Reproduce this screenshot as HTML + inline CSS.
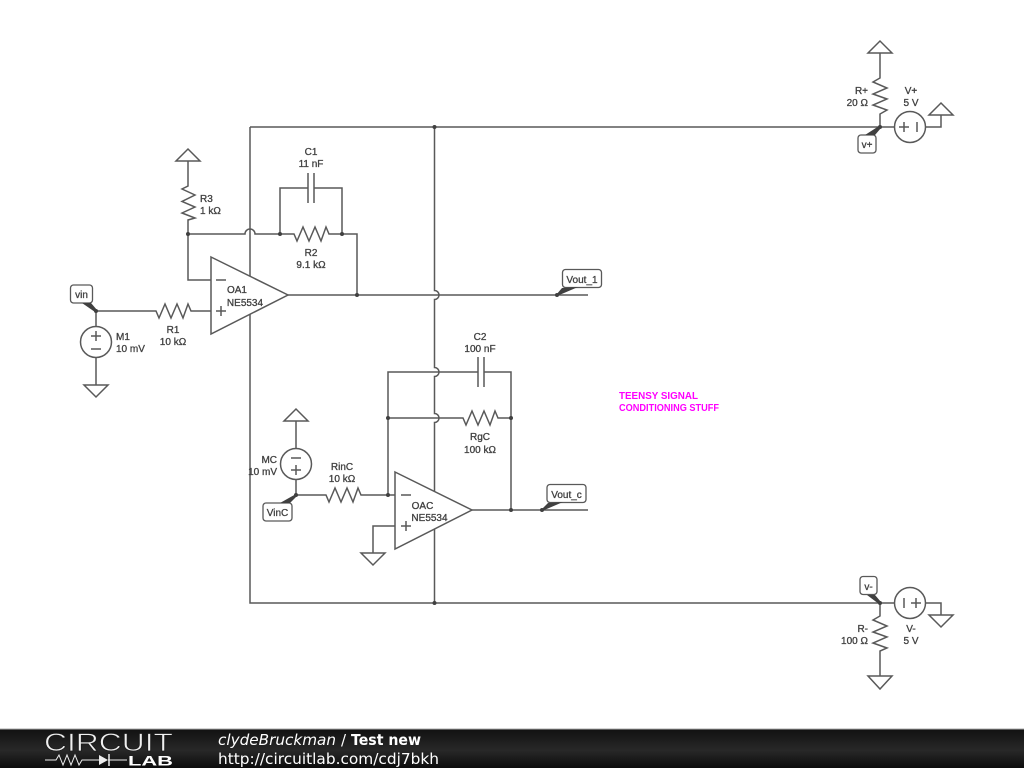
<!DOCTYPE html>
<html>
<head>
<meta charset="utf-8">
<style>
html,body{margin:0;padding:0;background:#fff;width:1024px;height:768px;overflow:hidden}
svg{display:block;filter:blur(.35px)}
.w{fill:none;stroke:#595959;stroke-width:1.5}
.f{fill:#fff;stroke:#595959;stroke-width:1.5}
.j{fill:#404040}
.t{font-family:"Liberation Sans",sans-serif;font-size:10px;fill:#404040;text-anchor:middle;stroke:#404040;stroke-width:.3}
.b{fill:#fff;stroke:#595959;stroke-width:1.3}
.lead{fill:#404040}
.m{font-family:"Liberation Sans",sans-serif;font-size:10px;font-weight:bold;fill:#ff00ff}
.ft{font-family:"DejaVu Sans",sans-serif;font-size:15px;fill:#fff}
</style>
</head>
<body>
<svg width="1024" height="768" viewBox="0 0 1024 768" xmlns="http://www.w3.org/2000/svg">
<defs>
<linearGradient id="g" x1="0" y1="0" x2="0" y2="1"><stop offset="0" stop-color="#111"/><stop offset=".55" stop-color="#282828"/><stop offset="1" stop-color="#0c0c0c"/></linearGradient>
</defs>
<rect width="1024" height="768" fill="#fff"/>

<!-- rails -->
<path class="w" d="M250 127H880M250 127V603H880"/>
<path class="w" d="M434.500 127V290.500A4.500 4.500 0 0 1 434.500 299.500V367.500A4.500 4.500 0 0 1 434.500 376.500V413.500A4.500 4.500 0 0 1 434.500 422.500V603"/>

<!-- R3 + ground -->
<path class="f" d="M176 161H200L188 149Z"/>
<path class="w" d="M188 161V186L182 189L195 195L182 201.500L195 207L182 213L195 218L188 220V234"/>
<path class="w" d="M188 234H245A5 5 0 0 1 255 234H280M188 234V280H211"/>

<!-- R2, C1 -->
<path class="w" d="M280 234H294L297 241L303 227L309 241L315 227L321 241L326 227L329 234H357V295"/>
<path class="w" d="M280 234V188H308M342 234V188H314M308 173V203M314 173V203"/>

<!-- OA1 -->
<path class="w" d="M288 295H588"/>
<path class="w" d="M96 311H156L159 318L165 304L171 318L177 304L183 318L188 304L191 311H211"/>
<path class="f" d="M211 257L288 295L211 334Z"/>
<path class="w" d="M216 280H226M216 311H226M221 306V316"/>
<text class="t" x="237" y="293">OA1</text>
<text class="t" x="245" y="306">NE5534</text>

<!-- M1 -->
<path class="w" d="M96 311V326.500M96 357.500V385"/>
<circle class="f" cx="96" cy="342" r="15.500"/>
<path class="w" d="M91 336H101M96 331V341M91 349H101"/>
<path class="f" d="M84 385H108L96 397Z"/>

<!-- OAC wires -->
<path class="w" d="M296 495H326L329 502L335 488L341 502L347 488L353 502L358 488L361 495H395"/>
<path class="w" d="M388 495V372H478M484 372H511V510M478 357V387M484 357V387"/>
<path class="w" d="M388 418H463L466 425L472 411L478 425L484 411L490 425L495 411L498 418H511"/>
<path class="w" d="M472 510H588"/>
<path class="w" d="M395 526H373V553"/>
<path class="f" d="M361 553H385L373 565Z"/>
<path class="f" d="M395 472L472 510L395 549Z"/>
<path class="w" d="M401 495H411M401 526H411M406 521V531"/>
<text class="t" x="422.500" y="509">OAC</text>
<text class="t" x="429.500" y="521">NE5534</text>

<!-- MC -->
<path class="f" d="M284 421H308L296 409Z"/>
<path class="w" d="M296 421V448.500M296 479.500V495"/>
<circle class="f" cx="296" cy="464" r="15.500"/>
<path class="w" d="M291 458H301M291 470H301M296 465V475"/>

<!-- V+ -->
<path class="f" d="M868 53H892L880 41Z"/>
<path class="w" d="M880 53V78L873 82L887 88L873 94L887 99L873 105L887 110L880 114V127"/>
<path class="w" d="M880 127H894.500M925.500 127H941V115"/>
<circle class="f" cx="910" cy="127" r="15.500"/>
<path class="w" d="M899 127H909M904 122V132M917 122V132"/>
<path class="f" d="M929 115H953L941 103Z"/>

<!-- V- -->
<path class="w" d="M880 603H894.500M925.500 603H941V615"/>
<circle class="f" cx="910" cy="603" r="15.500"/>
<path class="w" d="M904 598V608M911 603H921M916 598V608"/>
<path class="f" d="M929 615H953L941 627Z"/>
<path class="w" d="M880 603V616L873 620L887 626L873 632L887 637L873 643L887 648L880 651V676"/>
<path class="f" d="M868 676H892L880 689Z"/>

<!-- label boxes -->
<rect class="b" x="70.500" y="285" width="22" height="18" rx="3"/>
<text class="t" x="81.500" y="298">vin</text>
<rect class="b" x="562.500" y="269.500" width="39" height="18" rx="3"/>
<text class="t" x="582" y="283">Vout_1</text>
<rect class="b" x="547" y="484.500" width="39" height="18" rx="3"/>
<text class="t" x="566.500" y="498">Vout_c</text>
<rect class="b" x="263" y="503" width="29" height="18" rx="3"/>
<text class="t" x="277.500" y="516">VinC</text>
<rect class="b" x="858" y="135" width="18" height="18" rx="3"/>
<text class="t" x="867" y="148">v+</text>
<rect class="b" x="860" y="576.500" width="17" height="18" rx="3"/>
<text class="t" x="868.500" y="590">v-</text>

<!-- leads -->
<path class="lead" d="M82 303H91L97 310L95 312Z"/>
<path class="lead" d="M296 494L280 503H290L297 496Z"/>
<path class="lead" d="M556 295L562 288L578 287L557 296Z"/>
<path class="lead" d="M541 510L548 503L563 502L542 511Z"/>
<path class="lead" d="M879 126L865 135H875L881 128Z"/>
<path class="lead" d="M879 604L867 595H875L881 602Z"/>

<!-- junctions -->
<g class="j">
<circle cx="434.500" cy="127" r="2"/><circle cx="434.500" cy="603" r="2"/>
<circle cx="188" cy="234" r="2"/><circle cx="280" cy="234" r="2"/><circle cx="342" cy="234" r="2"/>
<circle cx="357" cy="295" r="2"/><circle cx="557" cy="295" r="2"/><circle cx="96" cy="311" r="2"/>
<circle cx="296" cy="495" r="2"/><circle cx="388" cy="495" r="2"/><circle cx="388" cy="418" r="2"/>
<circle cx="511" cy="418" r="2"/><circle cx="511" cy="510" r="2"/><circle cx="542" cy="510" r="2"/>
<circle cx="880" cy="127" r="2"/><circle cx="880" cy="603" r="2"/>
</g>

<!-- component labels -->
<text class="t" x="311" y="155">C1</text>
<text class="t" x="311" y="167">11 nF</text>
<text class="t" x="200" y="202" style="text-anchor:start">R3</text>
<text class="t" x="200" y="214" style="text-anchor:start">1 kΩ</text>
<text class="t" x="311" y="256">R2</text>
<text class="t" x="311" y="268">9.1 kΩ</text>
<text class="t" x="173" y="333">R1</text>
<text class="t" x="173" y="345">10 kΩ</text>
<text class="t" x="116" y="340" style="text-anchor:start">M1</text>
<text class="t" x="116" y="352" style="text-anchor:start">10 mV</text>
<text class="t" x="480" y="340">C2</text>
<text class="t" x="480" y="352">100 nF</text>
<text class="t" x="480" y="440">RgC</text>
<text class="t" x="480" y="453">100 kΩ</text>
<text class="t" x="342" y="470">RinC</text>
<text class="t" x="342" y="482">10 kΩ</text>
<text class="t" x="277" y="463" style="text-anchor:end">MC</text>
<text class="t" x="277" y="475" style="text-anchor:end">10 mV</text>
<text class="t" x="868" y="94" style="text-anchor:end">R+</text>
<text class="t" x="868" y="106" style="text-anchor:end">20 Ω</text>
<text class="t" x="911" y="94">V+</text>
<text class="t" x="911" y="106">5 V</text>
<text class="t" x="868" y="632" style="text-anchor:end">R-</text>
<text class="t" x="868" y="644" style="text-anchor:end">100 Ω</text>
<text class="t" x="911" y="632">V-</text>
<text class="t" x="911" y="644">5 V</text>

<text class="m" x="619" y="399" textLength="79" lengthAdjust="spacingAndGlyphs">TEENSY SIGNAL</text>
<text class="m" x="619" y="411" textLength="100" lengthAdjust="spacingAndGlyphs">CONDITIONING STUFF</text>

<!-- footer -->
<rect x="0" y="729" width="1024" height="39" fill="url(#g)"/>
<rect x="0" y="728.500" width="1024" height="1" fill="#aaa"/>
<text x="44" y="751" font-family="Liberation Sans,sans-serif" font-size="25" fill="#f0f0f0" stroke="#1c1c1c" stroke-width=".7" textLength="129" lengthAdjust="spacingAndGlyphs">CIRCUIT</text>
<path d="M45 760H56L59 755L63 765L67 755L71 765L75 755L79 765L82 760H99M108 760H127" fill="none" stroke="#eee" stroke-width="1"/>
<path d="M99 755L108 760L99 765Z" fill="#eee"/>
<path d="M109 754V766" stroke="#eee" stroke-width="1.500"/>
<text x="128" y="765.500" font-family="Liberation Sans,sans-serif" font-size="14" font-weight="bold" fill="#fff" textLength="45" lengthAdjust="spacingAndGlyphs">LAB</text>
<text class="ft" x="218" y="745" font-style="italic" textLength="118" lengthAdjust="spacingAndGlyphs">clydeBruckman</text>
<text class="ft" x="341" y="745">/</text>
<text class="ft" x="351" y="745" font-weight="bold" textLength="70" lengthAdjust="spacingAndGlyphs">Test new</text>
<text class="ft" x="218" y="764" textLength="221" lengthAdjust="spacingAndGlyphs">http://circuitlab.com/cdj7bkh</text>
</svg>
</body>
</html>
